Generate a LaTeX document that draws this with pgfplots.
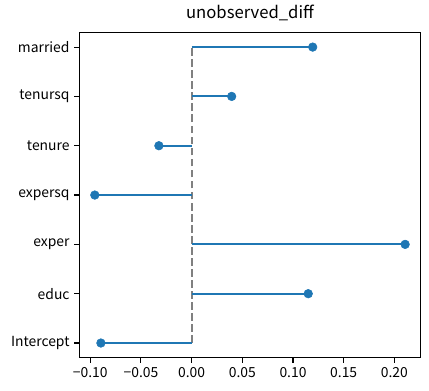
\documentclass[border=0pt]{standalone}
\usepackage{pgfplots}
\pgfplotsset{compat=1.18}
\usepackage{fontspec}
\setmainfont{Noto Sans CJK JP}
\definecolor{tabblue}{HTML}{1F77B4}
\definecolor{mgray}{HTML}{808080}
\begin{document}
\begin{tikzpicture}
\begin{axis}[
  scale only axis,
  width=245.8pt, height=234.4pt,
  xmin=-0.1108, xmax=0.2259,
  ymin=-0.3, ymax=6.3,
  xtick={-0.1,-0.05,0,0.05,0.1,0.15,0.2},
  xticklabels={−0.10,−0.05,0.00,0.05,0.10,0.15,0.20},
  ytick={0,1,2,3,4,5,6},
  yticklabels={Intercept,educ,exper,expersq,tenure,tenursq,married},
  tick align=outside,
  major tick length=3.5pt,
  tick style={line width=0.8pt, black},
  xtick pos=bottom, ytick pos=left,
  axis line style={line width=0.8pt},
  ticklabel style={font=\fontsize{10}{12}\selectfont},
  title={unobserved\_diff},
  title style={font=\fontsize{12}{14}\selectfont, yshift=-1pt},
  clip=false,
]
\addplot[mgray, line width=1.5pt, dash pattern=on 5.55pt off 2.4pt] coordinates {(0,0) (0,6)};
\addplot[xcomb, tabblue, line width=1.5pt, no marks] coordinates {
(-0.0895,0) (0.1150,1) (0.2106,2) (-0.0955,3) (-0.0323,4) (0.0395,5) (0.1194,6)};
\addplot[only marks, mark=*, mark size=3.1pt, tabblue, mark options={fill=tabblue, draw=tabblue}] coordinates {
(-0.0895,0) (0.1150,1) (0.2106,2) (-0.0955,3) (-0.0323,4) (0.0395,5) (0.1194,6)};
\end{axis}
\path (current axis.south west) ++(-57.1pt,-23.5pt) coordinate (bl);
\path (current axis.north east) ++(6pt,22.8pt) coordinate (tr);
\useasboundingbox (bl) rectangle (tr);
\end{tikzpicture}
\end{document}
